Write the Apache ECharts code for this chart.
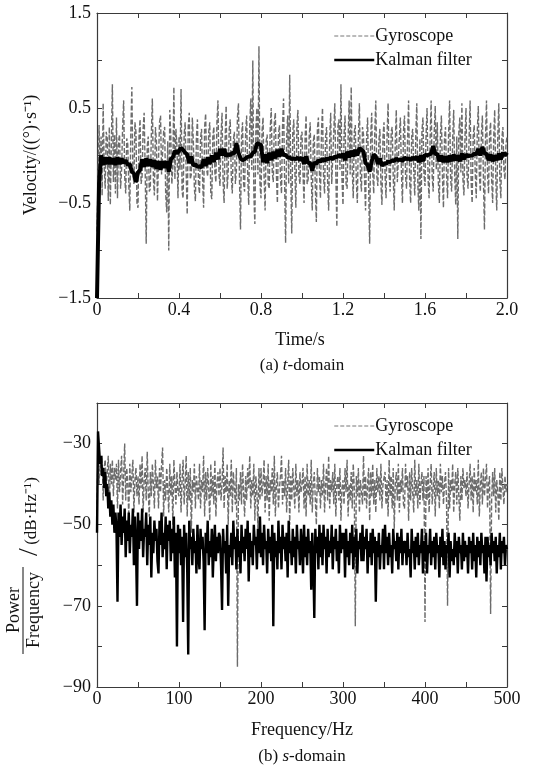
<!DOCTYPE html>
<html>
<head>
<meta charset="utf-8">
<script src="https://cdn.jsdelivr.net/npm/echarts@6/dist/echarts.min.js"></script>
<style>html,body{margin:0;padding:0;background:#fff;}#chart{width:533px;height:771px;}</style>
</head>
<body>
<div id="chart"></div>
<script>
// ---- (a) t-domain ----
const gyroTimeStep = 0.005;   // s between gyroscope samples
const gyroVelocity = [
 -0.80,-0.30,0.32,-0.15,0.20,-0.42,0.55,-0.10,-0.35,0.25,0.18,-0.48,0.30,-0.52,0.12,0.75,-0.28,0.22,-0.40,0.40,
 -0.45,0.15,0.22,-0.35,-0.15,0.30,0.58,-0.22,-0.40,0.18,0.12,-0.30,-0.58,0.25,0.72,-0.18,-0.30,0.35,0.25,-0.50,
 -0.55,0.20,0.38,-0.30,-0.22,0.28,0.45,-0.15,-0.93,0.10,0.20,-0.38,-0.35,0.22,0.60,-0.25,-0.42,0.30,0.15,-0.48,
 -0.50,0.35,0.42,-0.20,-0.18,0.25,0.30,-0.40,-0.60,0.15,-1.00,0.48,0.20,-0.30,-0.12,0.72,-0.25,0.28,0.10,-0.45,
 0.20,-0.15,0.70,-0.38,-0.45,0.22,0.35,-0.18,-0.62,0.30,0.45,-0.25,-0.20,0.40,0.15,-0.35,-0.48,0.20,0.38,-0.30,
 -0.40,0.18,0.28,-0.25,-0.55,0.30,0.44,-0.15,-0.22,0.25,0.35,-0.40,-0.46,0.20,0.30,-0.18,-0.28,0.35,0.58,-0.20,
 -0.32,0.22,0.45,-0.28,-0.50,0.18,0.52,-0.35,-0.18,0.28,0.38,-0.22,-0.40,0.15,0.25,-0.30,-0.15,0.40,0.55,-0.25,
 -0.78,0.20,0.35,-0.30,-0.38,0.25,0.42,-0.20,-0.52,0.30,0.60,-0.15,1.00,-0.40,-0.72,0.28,0.50,-0.20,1.15,-0.30,
 -0.45,0.25,0.40,-0.22,-0.58,0.15,0.22,-0.30,-0.35,0.28,0.50,-0.18,-0.28,0.35,0.45,-0.20,-0.50,0.22,0.32,-0.25,
 -0.40,0.30,0.60,-0.25,-0.92,0.18,0.42,-0.30,0.85,-0.20,-0.82,0.25,0.38,-0.15,-0.55,0.30,0.48,-0.22,-0.30,0.20,
 0.25,-0.20,-0.50,0.18,0.42,-0.30,-0.25,0.20,0.35,-0.22,-0.58,0.15,0.22,-0.35,-0.70,0.28,0.40,-0.18,-0.45,0.25,
 0.50,-0.22,-0.40,0.20,0.30,-0.28,-0.58,0.18,0.45,-0.30,-0.32,0.25,0.55,-0.20,-0.75,0.30,0.38,-0.15,0.75,-0.25,
 -0.52,0.22,0.42,-0.30,-0.35,0.18,0.58,-0.20,0.72,-0.15,-0.45,0.25,0.32,-0.28,-0.50,0.20,0.55,-0.22,-0.38,0.30,
 0.22,-0.25,-0.58,0.18,0.40,-0.30,-0.93,0.20,0.45,-0.18,-0.40,0.25,0.58,-0.22,-0.32,0.15,0.28,-0.30,-0.52,0.20,
 0.35,-0.20,-0.45,0.22,0.55,-0.18,-0.38,0.25,0.30,-0.22,-0.58,0.15,0.48,-0.28,-0.30,0.20,0.40,-0.18,-0.50,0.25,
 0.42,-0.22,-0.35,0.18,0.58,-0.25,-0.50,0.20,0.28,-0.15,-0.42,0.22,0.55,-0.30,-0.58,0.18,-0.88,0.25,0.40,-0.20,
 -0.32,0.20,0.50,-0.25,-0.45,0.18,0.58,-0.22,-0.38,0.25,0.52,-0.15,0.35,-0.28,-0.50,0.20,0.42,-0.22,-0.55,0.18,
 0.30,-0.20,-0.45,0.22,0.58,-0.25,-0.38,0.18,0.48,-0.22,-0.52,0.20,-0.88,0.25,0.40,-0.18,0.55,-0.25,-0.42,0.20,
 0.50,-0.22,-0.35,0.18,0.58,-0.28,-0.50,0.20,0.32,-0.18,-0.45,0.25,0.52,-0.20,-0.38,0.22,0.42,-0.25,-0.78,0.18,
 0.58,-0.20,-0.40,0.22,0.35,-0.25,-0.50,0.18,0.48,-0.22,-0.58,0.20,0.55,-0.25,-0.45,0.18,0.30,-0.15,-0.25,0.12,
 0.20
];
const kalmanTimeStep = 0.01;  // s between filter samples
const kalmanVelocity = [
 -1.50,-0.30,0.00,-0.10,-0.02,-0.09,-0.02,-0.09,-0.03,-0.10,
 -0.02,-0.09,-0.03,-0.08,-0.05,-0.10,-0.09,-0.17,-0.19,-0.28,
 -0.18,-0.15,-0.04,-0.12,-0.03,-0.11,-0.04,-0.12,-0.05,-0.14,
 -0.06,-0.15,-0.06,-0.13,-0.06,-0.17,-0.04,-0.02,0.05,0.02,
 0.05,0.08,0.06,0.03,0.01,-0.08,-0.01,-0.11,-0.09,-0.12,
 -0.11,-0.13,-0.04,-0.11,-0.02,-0.09,0.00,-0.07,0.03,-0.04,
 0.07,0.00,0.07,-0.01,0.02,0.00,0.03,0.02,0.13,0.03,
 -0.03,-0.05,-0.04,-0.02,-0.01,-0.01,0.03,0.04,0.13,0.12,
 0.11,-0.07,0.01,-0.08,0.03,-0.05,0.04,-0.03,0.06,-0.01,
 0.07,0.00,0.01,-0.02,-0.02,-0.04,-0.03,-0.04,-0.02,-0.05,
 -0.02,-0.09,-0.01,-0.08,-0.08,-0.16,-0.07,-0.09,-0.05,-0.07,
 -0.03,-0.06,-0.03,-0.04,-0.02,-0.04,-0.01,-0.02,0.01,-0.02,
 0.02,-0.05,0.04,-0.02,0.05,-0.01,0.06,0.00,0.08,0.06,
 0.04,-0.08,-0.10,-0.17,-0.06,0.01,-0.01,-0.09,-0.03,-0.11,
 -0.08,-0.09,-0.06,-0.07,-0.05,-0.06,-0.03,-0.05,-0.04,-0.06,
 -0.02,-0.04,-0.03,-0.05,-0.02,-0.04,-0.01,-0.07,0.00,-0.06,
 0.01,0.00,0.01,0.02,0.10,0.01,0.02,-0.06,0.00,-0.07,
 -0.01,-0.07,0.00,-0.06,0.01,-0.05,0.00,-0.06,0.02,-0.04,
 0.01,-0.01,0.00,0.00,0.02,0.01,0.07,0.00,0.09,0.02,
 0.02,-0.05,0.01,-0.06,0.00,-0.05,0.02,-0.04,0.03,0.00,0.03
];
const timeTickLabels = ['0','0.4','0.8','1.2','1.6','2.0'];
const velocityTickLabels = ['\u22121.5','\u22120.5','0.5','1.5'];

// ---- (b) s-domain: PSD in dB/Hz ----
const freqStep = 1.25;        // Hz between PSD bins
const gyroPsd = [
 -45,-32,-40,-35,-38,-33,-44,-36,-34,-41,-37,-33,-46,-35,-40,-34,-43,-36,-39,-35,
 -46,-34,-42,-37,-33,-45,-38,-30,-44,-36,-40,-48,-35,-42,-38,-34,-47,-39,-36,-43,
 -38,-45,-35,-41,-33,-47,-39,-36,-44,-32,-42,-48,-37,-43,-35,-40,-46,-34,-41,-38,
 -46,-36,-42,-35,-31,-48,-39,-44,-36,-41,-47,-35,-43,-38,-50,-34,-40,-45,-37,-42,
 -43,-35,-47,-39,-34,-45,-40,-33,-48,-37,-44,-36,-52,-39,-42,-35,-46,-38,-41,-44,
 -35,-46,-39,-42,-33,-48,-37,-44,-36,-41,-49,-35,-43,-38,-45,-34,-48,-40,-37,-43,
 -36,-44,-40,-31,-46,-38,-42,-35,-50,-39,-43,-34,-47,-37,-41,-45,-36,-85,-40,-44,
 -37,-45,-35,-42,-48,-38,-44,-36,-41,-33,-46,-39,-43,-35,-49,-38,-42,-51,-36,-44,
 -36,-43,-40,-34,-47,-38,-44,-35,-49,-39,-42,-36,-45,-33,-48,-40,-37,-46,-41,-38,
 -33,-45,-39,-43,-36,-47,-40,-34,-50,-38,-44,-36,-41,-46,-35,-43,-39,-47,-37,-42,
 -40,-36,-46,-38,-48,-35,-43,-39,-45,-34,-47,-40,-37,-44,-50,-36,-42,-38,-46,-39,
 -43,-35,-47,-40,-36,-44,-33,-46,-39,-42,-37,-45,-35,-48,-40,-38,-44,-36,-49,-41,
 -39,-45,-36,-42,-34,-48,-40,-44,-37,-46,-35,-41,-75,-38,-43,-36,-47,-39,-42,-45,
 -33,-44,-38,-46,-40,-36,-49,-37,-43,-35,-45,-39,-47,-36,-42,-38,-44,-35,-46,-40,
 -40,-37,-45,-39,-48,-34,-43,-38,-46,-36,-51,-40,-37,-44,-35,-47,-39,-42,-36,-45,
 -46,-35,-41,-38,-49,-37,-44,-36,-42,-47,-34,-43,-39,-46,-35,-45,-40,-37,-44,-38,
 -74,-38,-44,-36,-47,-40,-35,-45,-41,-37,-48,-36,-43,-39,-46,-35,-42,-38,-45,-40,
 -37,-44,-70,-36,-46,-39,-42,-35,-47,-40,-37,-45,-36,-43,-49,-38,-44,-36,-41,-39,
 -43,-37,-46,-40,-35,-44,-38,-47,-36,-42,-39,-45,-34,-48,-40,-37,-45,-36,-43,-39,
 -35,-46,-40,-38,-72,-44,-37,-43,-36,-47,-39,-42,-49,-37,-44,-36,-41,-45,-38,-42,
 -40
];
const kalmanPsd = [
 -52,-27,-31,-35,-33,-38,-36,-41,-37,-43,-40,-46,-42,-48,-44,-50,-45,-52,-47,-51,
 -69,-47,-53,-45,-55,-48,-52,-46,-58,-49,-54,-47,-57,-50,-53,-46,-60,-48,-55,-70,
 -47,-56,-49,-54,-46,-58,-51,-53,-47,-60,-50,-55,-48,-63,-52,-57,-49,-54,-51,-59,
 -62,-49,-55,-47,-58,-52,-56,-48,-61,-50,-54,-49,-59,-51,-57,-48,-63,-52,-80,-50,
 -57,-51,-60,-53,-74,-50,-58,-52,-61,-82,-49,-56,-53,-60,-51,-57,-54,-62,-50,-58,
 -61,-51,-56,-53,-59,-76,-52,-57,-49,-60,-54,-58,-51,-63,-55,-50,-59,-53,-57,-52,
 -53,-60,-71,-51,-57,-54,-62,-50,-70,-55,-58,-52,-60,-49,-56,-53,-61,-51,-58,-54,
 -62,-50,-57,-53,-59,-51,-56,-49,-64,-52,-58,-54,-60,-50,-55,-53,-61,-51,-57,-48,
 -58,-52,-60,-50,-56,-54,-62,-51,-57,-53,-59,-50,-75,-52,-58,-54,-61,-49,-57,-53,
 -61,-50,-56,-53,-59,-52,-63,-49,-57,-54,-60,-51,-58,-53,-62,-50,-56,-54,-60,-51,
 -55,-62,-50,-58,-53,-60,-51,-57,-54,-66,-52,-59,-73,-51,-57,-53,-61,-50,-58,-52,
 -60,-50,-56,-53,-62,-51,-58,-54,-57,-50,-61,-53,-56,-51,-59,-54,-62,-50,-57,-52,
 -56,-52,-63,-51,-58,-54,-60,-52,-57,-50,-61,-53,-58,-51,-62,-54,-56,-52,-59,-50,
 -59,-53,-56,-51,-62,-54,-58,-52,-60,-51,-57,-53,-69,-54,-58,-52,-61,-55,-57,-51,
 -61,-50,-57,-53,-60,-52,-58,-55,-62,-51,-56,-54,-59,-52,-61,-53,-57,-51,-60,-54,
 -57,-54,-60,-52,-58,-56,-63,-51,-57,-54,-61,-53,-58,-52,-60,-55,-57,-51,-62,-54,
 -59,-52,-62,-55,-57,-51,-60,-54,-58,-53,-61,-52,-57,-55,-63,-53,-58,-51,-60,-54,
 -61,-55,-57,-52,-63,-54,-59,-56,-60,-52,-58,-54,-62,-53,-57,-55,-61,-52,-59,-54,
 -58,-55,-62,-53,-57,-54,-61,-52,-59,-55,-63,-53,-58,-54,-60,-52,-57,-55,-62,-53,
 -64,-53,-58,-55,-60,-52,-57,-54,-59,-53,-62,-55,-58,-52,-61,-54,-57,-53,-60,-55,
 -56
];
const freqTickLabels = ['0','100','200','300','400','500'];
const psdTickLabels = ['\u221290','\u221270','\u221250','\u221230'];

const seriesNames = ['Gyroscope','Kalman filter'];

// ---- build ----
const FONT = '"Liberation Serif", "Times New Roman", serif';
const toPairs = (arr, step) => arr.map((v, i) => [+(i * step).toFixed(4), v]);
const AX = '#3a3a3a';
function baseAxis(gi, pos, min, max, interval) {
  return {
    type: 'value', gridIndex: gi, position: pos, min, max, interval,
    axisLine: { show: true, onZero: false, lineStyle: { color: AX, width: 1.2 } },
    axisTick: { show: true, inside: true, length: 5, lineStyle: { color: AX, width: 1 } },
    axisLabel: { show: false },
    splitLine: { show: false }
  };
}
function withLabels(ax, margin, fmt) {
  ax.axisLabel = { show: true, margin, color: '#111', fontFamily: FONT, fontSize: 18, formatter: fmt };
  return ax;
}
const pick = (list, s) => list.indexOf(s) >= 0 ? s : '';

const chart = echarts.init(document.getElementById('chart'), null, { renderer: 'canvas' });
const gyroStyle = { color: '#6c6c6c', width: 1.4, type: [5, 2] };
const legendGyro = { color: '#777', width: 1, type: [4, 2] };
function legendFor(top) {
  return {
    left: 328, top, orient: 'vertical', itemWidth: 40, itemHeight: 10, itemGap: 6, selectedMode: false,
    itemStyle: { opacity: 0 },
    textStyle: { fontFamily: FONT, fontSize: 18, color: '#111', padding: [0, 0, 0, -4] },
    data: [
      { name: seriesNames[0], lineStyle: legendGyro },
      { name: seriesNames[1], lineStyle: { color: '#000', width: 2.5, type: 'solid' } }
    ]
  };
}

const option = {
  animation: false,
  backgroundColor: '#fff',
  grid: [
    { left: 97, top: 13, width: 410, height: 285 },
    { left: 97, top: 403, width: 410, height: 284 }
  ],
  xAxis: [
    withLabels(baseAxis(0, 'bottom', 0, 2, 0.2), 3, v => pick(timeTickLabels, v === 0 ? '0' : v.toFixed(1))),
    baseAxis(0, 'top', 0, 2, 0.2),
    withLabels(baseAxis(1, 'bottom', 0, 500, 50), 3, v => pick(freqTickLabels, String(Math.round(v)))),
    baseAxis(1, 'top', 0, 500, 50)
  ],
  yAxis: [
    withLabels(baseAxis(0, 'left', -1.5, 1.5, 0.5), 6, v => pick(velocityTickLabels, v.toFixed(1).replace('-', '\u2212'))),
    baseAxis(0, 'right', -1.5, 1.5, 0.5),
    withLabels(baseAxis(1, 'left', -90, -20, 10), 6, v => pick(psdTickLabels, String(Math.round(v)).replace('-', '\u2212'))),
    baseAxis(1, 'right', -90, -20, 10)
  ],
  legend: [ legendFor(22), legendFor(412) ],
  series: [
    { name: seriesNames[0], type: 'line', xAxisIndex: 0, yAxisIndex: 0, showSymbol: false, symbol: 'none',
      sampling: false, lineStyle: gyroStyle, itemStyle: { color: '#6c6c6c' }, z: 2,
      data: toPairs(gyroVelocity, gyroTimeStep) },
    { name: seriesNames[1], type: 'line', xAxisIndex: 0, yAxisIndex: 0, showSymbol: false, symbol: 'none',
      sampling: false, lineStyle: { color: '#000', width: 4, type: 'solid' }, itemStyle: { color: '#000' }, z: 3,
      data: toPairs(kalmanVelocity, kalmanTimeStep) },
    { name: seriesNames[0], type: 'line', xAxisIndex: 2, yAxisIndex: 2, showSymbol: false, symbol: 'none',
      sampling: false, lineStyle: gyroStyle, itemStyle: { color: '#6c6c6c' }, z: 2,
      data: toPairs(gyroPsd, freqStep) },
    { name: seriesNames[1], type: 'line', xAxisIndex: 2, yAxisIndex: 2, showSymbol: false, symbol: 'none',
      sampling: false, lineStyle: { color: '#000', width: 2.4, type: 'solid' }, itemStyle: { color: '#000' }, z: 3,
      data: toPairs(kalmanPsd, freqStep) }
  ],
  graphic: [
    { type: 'text', x: 31, y: 155, rotation: Math.PI / 2,
      style: { text: 'Velocity/((\u00B0)\u00B7s\u207B\u00B9)', font: '18px ' + FONT, fill: '#111', align: 'center', verticalAlign: 'middle' } },
    { type: 'text', x: 300, y: 340,
      style: { text: 'Time/s', font: '18px ' + FONT, fill: '#111', align: 'center', verticalAlign: 'middle' } },
    { type: 'text', x: 302, y: 366,
      style: { text: '{n|(a) }{i|t}{n|-domain}', align: 'center', verticalAlign: 'middle',
        rich: { n: { font: '17px ' + FONT, fill: '#111' }, i: { font: 'italic 17px ' + FONT, fill: '#111' } } } },
    { type: 'text', x: 302, y: 730,
      style: { text: 'Frequency/Hz', font: '18px ' + FONT, fill: '#111', align: 'center', verticalAlign: 'middle' } },
    { type: 'text', x: 302, y: 757,
      style: { text: '{n|(b) }{i|s}{n|-domain}', align: 'center', verticalAlign: 'middle',
        rich: { n: { font: '17px ' + FONT, fill: '#111' }, i: { font: 'italic 17px ' + FONT, fill: '#111' } } } },
    { type: 'text', x: 14, y: 610, rotation: Math.PI / 2,
      style: { text: 'Power', font: '18px ' + FONT, fill: '#111', align: 'center', verticalAlign: 'middle' } },
    { type: 'line', shape: { x1: 23, y1: 567, x2: 23, y2: 654 }, style: { stroke: '#111', lineWidth: 1 } },
    { type: 'text', x: 34, y: 610, rotation: Math.PI / 2,
      style: { text: 'Frequency', font: '18px ' + FONT, fill: '#111', align: 'center', verticalAlign: 'middle' } },
    { type: 'text', x: 30, y: 552, rotation: Math.PI / 2,
      style: { text: '/', font: '28px ' + FONT, fill: '#111', align: 'center', verticalAlign: 'middle' } },
    { type: 'text', x: 32, y: 511, rotation: Math.PI / 2,
      style: { text: '(dB\u00B7Hz\u207B\u00B9)', font: '17px ' + FONT, fill: '#111', align: 'center', verticalAlign: 'middle' } }
  ]
};
chart.setOption(option);
</script>
</body>
</html>
